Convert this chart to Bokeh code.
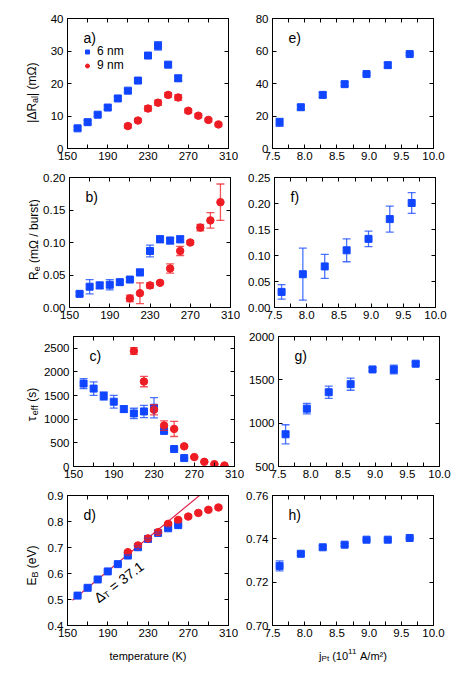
import math
from bokeh.plotting import figure
from bokeh.models import (Range1d, FixedTicker, LinearAxis, PrintfTickFormatter,
                          CustomJSTickFormatter, Whisker, TeeHead, ColumnDataSource,
                          Label, Legend, LegendItem)
from bokeh.layouts import column, row
from bokeh.embed import file_html
from bokeh.resources import INLINE

# ---------------- data ----------------
T6 = [160, 170, 180, 190, 200, 210, 220, 230, 240, 250, 260]
T9 = [210, 220, 230, 240, 250, 260, 270, 280, 290, 300]

dR6 = [6.2, 8.1, 10.4, 12.6, 15.4, 17.8, 20.9, 28.6, 31.6, 25.8, 21.6]
dR6_err = [0.5, 0.6, 0.5, 0.6, 0.6, 0.6, 0.6, 0.5, 1.3, 0.7, 0.9]
dR9 = [6.9, 8.6, 12.3, 14.1, 16.5, 15.7, 11.6, 10.1, 8.8, 7.4]
dR9_err = [0.6, 0.5, 0.8, 0.8, 0.7, 0.9, 0.6, 0.6, 0.5, 0.5]

Re6 = [0.021, 0.032, 0.034, 0.035, 0.039, 0.043, 0.054, 0.087, 0.105, 0.103, 0.105]
Re6_err = [0.003, 0.011, 0.005, 0.008, 0.004, 0.003, 0.005, 0.009, 0.005, 0.005, 0.005]
Re9 = [0.014, 0.022, 0.034, 0.038, 0.060, 0.087, 0.100, 0.123, 0.134, 0.162]
Re9_err = [0.005, 0.016, 0.004, 0.002, 0.007, 0.007, 0.003, 0.005, 0.012, 0.028]

tau6 = [1754, 1648, 1491, 1371, 1214, 1122, 1165, 1243, 753, 369, 178]
tau6_err = [107, 142, 85, 135, 70, 110, 130, 213, 30, 20, 15]
tau9 = [2443, 1797, 1200, 866, 795, 426, 199, 99, 50, 21]
tau9_err = [70, 110, 107, 100, 160, 20, 15, 10, 8, 8]

EB6 = [0.515, 0.545, 0.577, 0.608, 0.636, 0.669, 0.701, 0.733, 0.756, 0.774, 0.786]
EB6_err = [0.004] * 11
EB9 = [0.682, 0.708, 0.735, 0.759, 0.791, 0.806, 0.819, 0.833, 0.845, 0.854]
EB9_err = [0.005] * 10

fit_T = [155, 282]
fit_slope = 0.00319
fit_intercept = 0.003
fit_text = "37.1"

jPt = [7.61, 7.94, 8.28, 8.62, 8.96, 9.29, 9.63]
e_val = [16.1, 25.4, 33.0, 39.6, 45.8, 51.3, 58.1]
e_err = [2.5, 1.5, 1.5, 1.2, 0.8, 1.5, 0.8]
f_val = [0.030, 0.064, 0.079, 0.110, 0.132, 0.170, 0.201]
f_err = [0.014, 0.050, 0.023, 0.022, 0.015, 0.025, 0.020]
g_val = [872, 1167, 1357, 1450, 1620, 1620, 1686]
g_err = [110, 60, 70, 70, 20, 50, 20]
h_val = [0.7275, 0.7331, 0.7361, 0.7373, 0.7396, 0.7396, 0.7404]
h_err = [0.0023, 0.0007, 0.0007, 0.0006, 0.0004, 0.0005, 0.0003]

T_ticks = [150, 190, 230, 270, 310]
T_minor = [170, 210, 250, 290]
j_ticks = [7.5, 8.0, 8.5, 9.0, 9.5, 10.0]
j_minor = [7.75, 8.25, 8.75, 9.25, 9.75]

BLUE = "#1046ff"
RED = "#ee1c24"
FIT = "#e0204c"
FONT = "Liberation Sans"

FW, FH = 161, 130

W = {' ': .278, '|': .26, 'Δ': .668, 'R': .722, 'a': .556, 'l': .222, '(': .333, ')': .333,
     'm': .833, 'Ω': .768, 'e': .556, '/': .278, 'b': .556, 'u': .556, 'r': .333, 's': .5,
     't': .278, 'τ': .5, 'f': .278, 'E': .667, 'B': .667, 'V': .667, 'j': .222, 'P': .667,
     'A': .667, '²': .333, 'T': .611, '=': .584, '.': .278, 'p': .556, 'K': .667}


def tw(s, size):
    return sum(W.get(ch, 0.556) for ch in s) * size


def add_pieces(p, pieces, x, y, angle, units="data", center=True):
    th = math.radians(angle)
    total = sum(tw(t, sz) for t, sz, sh in pieces)
    d = -total / 2 if center else 0.0
    for t, sz, sh in pieces:
        core = t.strip(' ')
        lead = len(t) - len(t.lstrip(' '))
        trail = len(t) - lead - len(core)
        d += lead * W[' '] * sz
        ox = d * math.cos(th) + sh * math.sin(th)
        oy = d * math.sin(th) - sh * math.cos(th)
        p.add_layout(Label(x=x, y=y, x_units=units, y_units=units, x_offset=ox, y_offset=oy,
                           text=core, angle=angle, angle_units="deg",
                           text_font_size=f"{sz}px", text_font=FONT, text_color="black",
                           text_align="left", text_baseline="alphabetic"))
        d += tw(core, sz) + trail * W[' '] * sz


def make_fig(xr, yr, xt, xminor, yt, xfmt, yfmt, left, right, top, bottom):
    p = figure(frame_width=FW, frame_height=FH,
               x_range=Range1d(*xr), y_range=Range1d(*yr),
               output_backend="svg", toolbar_location=None,
               min_border_left=left, min_border_right=right,
               min_border_top=top, min_border_bottom=bottom)
    p.grid.visible = False
    p.outline_line_color = "black"
    for ax in (p.xaxis[0], p.yaxis[0]):
        ax.major_tick_in = 4
        ax.major_tick_out = 0
        ax.minor_tick_in = 4
        ax.minor_tick_out = 0
        ax.axis_line_color = "black"
        ax.major_tick_line_color = "black"
        ax.minor_tick_line_color = "black"
        ax.major_label_text_font = FONT
        ax.major_label_text_font_size = "11.5px"
        ax.major_label_text_color = "black"
    p.xaxis[0].ticker = FixedTicker(ticks=xt, minor_ticks=xminor)
    p.yaxis[0].ticker = FixedTicker(ticks=yt)
    p.yaxis[0].minor_tick_in = 0
    p.xaxis[0].formatter = PrintfTickFormatter(format=xfmt)
    p.yaxis[0].formatter = PrintfTickFormatter(format=yfmt)
    p.xaxis[0].major_label_standoff = 3
    p.yaxis[0].major_label_standoff = 4
    blank = CustomJSTickFormatter(code="return ''")
    rax = LinearAxis(ticker=FixedTicker(ticks=yt), formatter=blank,
                     major_tick_in=4, major_tick_out=0, minor_tick_in=0, minor_tick_out=0,
                     major_label_standoff=0, major_label_text_font_size="1px",
                     axis_line_color="black")
    p.add_layout(rax, "right")
    tax = LinearAxis(ticker=FixedTicker(ticks=xt, minor_ticks=xminor), formatter=blank,
                     major_tick_in=4, major_tick_out=0, minor_tick_in=4, minor_tick_out=0,
                     major_label_standoff=0, major_label_text_font_size="1px",
                     axis_line_color="black")
    p.add_layout(tax, "above")
    return p


def text_fig(w, h):
    p = figure(width=w, height=h, x_range=Range1d(0, w), y_range=Range1d(0, h),
               x_axis_type=None, y_axis_type=None, output_backend="svg",
               toolbar_location=None, min_border=0)
    p.grid.visible = False
    p.outline_line_color = None
    return p


def series(p, x, y, err, color, marker):
    src = ColumnDataSource(dict(x=x, y=y, upper=[a + b for a, b in zip(y, err)],
                                lower=[a - b for a, b in zip(y, err)]))
    p.add_layout(Whisker(base="x", upper="upper", lower="lower", source=src,
                         line_color=color, line_width=1.3, line_alpha=0.75,
                         upper_head=TeeHead(size=8, line_color=color, line_width=1.3, line_alpha=0.75),
                         lower_head=TeeHead(size=8, line_color=color, line_width=1.3, line_alpha=0.75),
                         level="glyph"))
    return p.scatter("x", "y", source=src, marker=marker, size=7 if marker == "square" else 7.5,
                     fill_color=color, line_color=color)


def tag(p, txt):
    p.add_layout(Label(x=16, y=FH - 19, x_units="screen", y_units="screen", text=txt,
                       text_font=FONT, text_font_size="14px", text_color="black",
                       text_baseline="middle", text_align="left"))


YLW = 40                      # width of the y-label strip
LB, LR, RB, RR = 27, 10, 34, 15
TOP0, TOP, BOT = 18, 10, 19
ROWH = TOP + FH + BOT
GRIDH = TOP0 + FH + BOT + 3 * ROWH
XLH = 28
Tr = (150, 310)
jr = (7.5, 10.0)

# a
pa = make_fig(Tr, (0, 40), T_ticks, T_minor, [0, 10, 20, 30, 40], "%d", "%d", LB, LR, TOP0, BOT)
r6 = series(pa, T6, dR6, dR6_err, BLUE, "square")
r9 = series(pa, T9, dR9, dR9_err, RED, "circle")
tag(pa, "a)")
leg = Legend(items=[LegendItem(label="6 nm", renderers=[r6]), LegendItem(label="9 nm", renderers=[r9])],
             location=(15, 76), padding=0, margin=0, spacing=0, label_height=13, glyph_height=13,
             glyph_width=10, label_standoff=5, border_line_color=None, background_fill_alpha=0,
             label_text_font=FONT, label_text_font_size="12px", label_text_color="black")
pa.add_layout(leg)

# b
pb = make_fig(Tr, (0, 0.20), T_ticks, T_minor, [0, 0.05, 0.10, 0.15, 0.20], "%d", "%.2f", LB, LR, TOP, BOT)
series(pb, T6, Re6, Re6_err, BLUE, "square")
series(pb, T9, Re9, Re9_err, RED, "circle")
tag(pb, "b)")

# c
pc = make_fig(Tr, (0, 2750), T_ticks, T_minor, [0, 500, 1000, 1500, 2000, 2500], "%d", "%d", LB, LR, TOP, BOT)
series(pc, T6, tau6, tau6_err, BLUE, "square")
series(pc, T9, tau9, tau9_err, RED, "circle")
tag(pc, "c)")

# d
pd = make_fig(Tr, (0.4, 0.9), T_ticks, T_minor, [0.4, 0.5, 0.6, 0.7, 0.8, 0.9], "%d", "%.1f", LB, LR, TOP, BOT)
pd.line(fit_T, [fit_intercept + fit_slope * t for t in fit_T], line_color=FIT, line_width=1.2)
series(pd, T6, EB6, EB6_err, BLUE, "square")
series(pd, T9, EB9, EB9_err, RED, "circle")
tag(pd, "d)")
add_pieces(pd, [("Δ", 14, 0), ("T", 9, 3), (" = " + fit_text, 14, 0)], 178, 0.50, 37,
           center=False)

# e-h
pe = make_fig(jr, (0, 80), j_ticks, j_minor, [0, 20, 40, 60, 80], "%.1f", "%d", RB, RR, TOP0, BOT)
series(pe, jPt, e_val, e_err, BLUE, "square")
tag(pe, "e)")

pf = make_fig(jr, (0, 0.25), j_ticks, j_minor, [0, 0.05, 0.10, 0.15, 0.20, 0.25], "%.1f", "%.2f", RB, RR, TOP, BOT)
series(pf, jPt, f_val, f_err, BLUE, "square")
tag(pf, "f)")

pg = make_fig(jr, (500, 2000), j_ticks, j_minor, [500, 1000, 1500, 2000], "%.1f", "%d", RB, RR, TOP, BOT)
series(pg, jPt, g_val, g_err, BLUE, "square")
tag(pg, "g)")

ph = make_fig(jr, (0.70, 0.76), j_ticks, j_minor, [0.70, 0.72, 0.74, 0.76], "%.1f", "%.2f", RB, RR, TOP, BOT)
series(ph, jPt, h_val, h_err, BLUE, "square")
tag(ph, "h)")

# y-label strip (1 unit = 1 px, y measured up from the strip bottom)
yl = text_fig(YLW, GRIDH)
def row_y(k, from_frame_bottom):
    frame_bottom_from_top = TOP0 + FH + k * ROWH
    return GRIDH - frame_bottom_from_top + from_frame_bottom
add_pieces(yl, [("|ΔR", 12, 0), ("al", 9, 3), ("| (mΩ)", 12, 0)], 31, row_y(0, 56), 90)
add_pieces(yl, [("R", 12, 0), ("e", 9, 3), (" (mΩ / burst)", 12, 0)], 33, row_y(1, 68), 90)
add_pieces(yl, [("τ", 12, 0), ("eff", 9, 3), (" (s)", 12, 0)], 31, row_y(2, 62), 90)
add_pieces(yl, [("E", 12, 0), ("B", 9, 3), (" (eV)", 12, 0)], 31, row_y(3, 60), 90)

# x-label strip
LW = LB + FW + LR
RW = RB + FW + RR
xl = text_fig(YLW + LW + RW, XLH)
add_pieces(xl, [("temperature (K)", 11, 0)], YLW + LB + FW / 2, 17, 0)
add_pieces(xl, [("j", 11, 0), ("Pt", 8, 3), (" (10", 11, 0), ("11", 8, -4), (" A/m²)", 11, 0)],
           YLW + LW + RB + FW / 2, 17, 0)

grid = column(row(pa, pe), row(pb, pf), row(pc, pg), row(pd, ph))
layout = column(row(yl, grid), xl)

open("out.html", "w").write(file_html(layout, INLINE))
